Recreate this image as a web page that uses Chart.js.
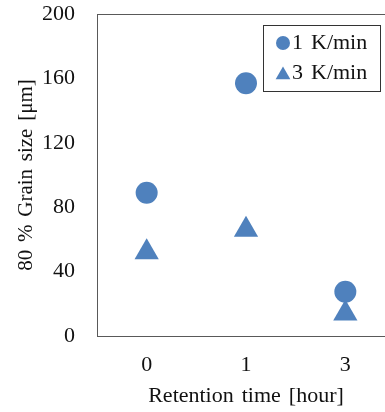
<!DOCTYPE html>
<html><head><meta charset="utf-8">
<script src="https://cdn.jsdelivr.net/npm/chart.js@4/dist/chart.umd.min.js"></script>
<style>html,body{margin:0;padding:0;overflow:hidden;background:#fff;width:385px;height:412px;}
#wrap{position:relative;width:409px;height:412px;}canvas{display:block;}</style>
</head><body>
<div id="wrap"><canvas id="c"></canvas></div>
<script>
const categories = ['0', '1', '3'];
const series1Label = '1 K/min';
const series1Values = [89, 157, 27.5];
const series2Label = '3 K/min';
const series2Values = [52, 66, 14];
const yTicks = [0, 40, 80, 120, 160, 200];
const xTitle = 'Retention time [hour]';
const yTitle = '80 % Grain size [\u03bcm]';

const BLUE = '#4F81BD';
const FONT = "'Liberation Serif', 'Times New Roman', serif";
const TEXT = '#111';

const spacingPlugin = {
  id: 'spacing',
  beforeDraw(chart) { chart.ctx.wordSpacing = '2.5px'; }
};

const framePlugin = {
  id: 'frame',
  beforeDatasetsDraw(chart) {
    const {ctx, chartArea: a} = chart;
    ctx.save();
    ctx.strokeStyle = '#595959';
    ctx.lineWidth = 1;
    ctx.strokeRect(a.left + 0.5, a.top + 0.5, a.right - a.left, a.bottom - a.top);
    ctx.restore();
  }
};

const legendPlugin = {
  id: 'boxLegend',
  afterDatasetsDraw(chart) {
    const {ctx} = chart;
    const bx = 263, by = 25, bw = 117, bh = 66;
    ctx.save();
    ctx.fillStyle = '#fff';
    ctx.fillRect(bx, by, bw, bh);
    ctx.strokeStyle = '#333';
    ctx.lineWidth = 1;
    ctx.strokeRect(bx + 0.5, by + 0.5, bw, bh);
    const rows = [{y: 43, r: 7, yo: 0}, {y: 73, r: 8.5, yo: 2}];
    chart.data.datasets.forEach((ds, i) => {
      const row = rows[i];
      ctx.fillStyle = ds.backgroundColor;
      ctx.strokeStyle = ds.backgroundColor;
      Chart.helpers.drawPoint(ctx, {pointStyle: ds.pointStyle, rotation: 0, radius: row.r, borderWidth: 0}, 283, row.y + row.yo);
      ctx.fillStyle = TEXT;
      ctx.font = '22px ' + FONT;
      ctx.textAlign = 'left';
      ctx.textBaseline = 'middle';
      ctx.fillText(ds.label, 292, row.y);
    });
    ctx.restore();
  }
};

new Chart(document.getElementById('c'), {
  type: 'line',
  data: {
    labels: categories,
    datasets: [
      {label: series1Label, data: series1Values, showLine: false, pointStyle: 'circle', pointRadius: 11, pointHoverRadius: 11,
       backgroundColor: BLUE, borderColor: BLUE, pointBorderWidth: 0},
      {label: series2Label, data: series2Values, showLine: false, pointStyle: 'triangle', pointRadius: 14, pointHoverRadius: 14,
       backgroundColor: BLUE, borderColor: BLUE, pointBorderWidth: 0}
    ]
  },
  options: {
    responsive: true,
    maintainAspectRatio: false,
    animation: false,
    events: [],
    layout: {padding: {top: 14, right: 6, left: 0, bottom: 0}},
    plugins: {legend: {display: false}, tooltip: {enabled: false}},
    scales: {
      x: {
        type: 'category',
        offset: true,
        grid: {display: false, drawTicks: false},
        border: {display: false},
        ticks: {color: TEXT, font: {family: FONT, size: 22}, padding: 16, maxRotation: 0},
        title: {display: true, text: xTitle, color: TEXT, font: {family: FONT, size: 22}, padding: {top: 0, bottom: 3}},
        afterFit(s) { s.height = 76; s.paddingLeft = 0; s.paddingRight = 0; s.paddingTop = 0; s.paddingBottom = 0; }
      },
      y: {
        min: 0, max: 200,
        afterBuildTicks(s) { s.ticks = yTicks.map(v => ({value: v})); },
        grid: {display: false, drawTicks: false},
        border: {display: false},
        ticks: {color: TEXT, font: {family: FONT, size: 22}, padding: 22},
        title: {display: true, text: yTitle, color: TEXT, font: {family: FONT, size: 21}, padding: {top: 14, bottom: 0}},
        afterFit(s) { s.width = 97; s.paddingLeft = 0; s.paddingRight = 0; s.paddingTop = 0; s.paddingBottom = 0; }
      }
    }
  },
  plugins: [spacingPlugin, framePlugin, legendPlugin]
});
</script>
</body></html>
